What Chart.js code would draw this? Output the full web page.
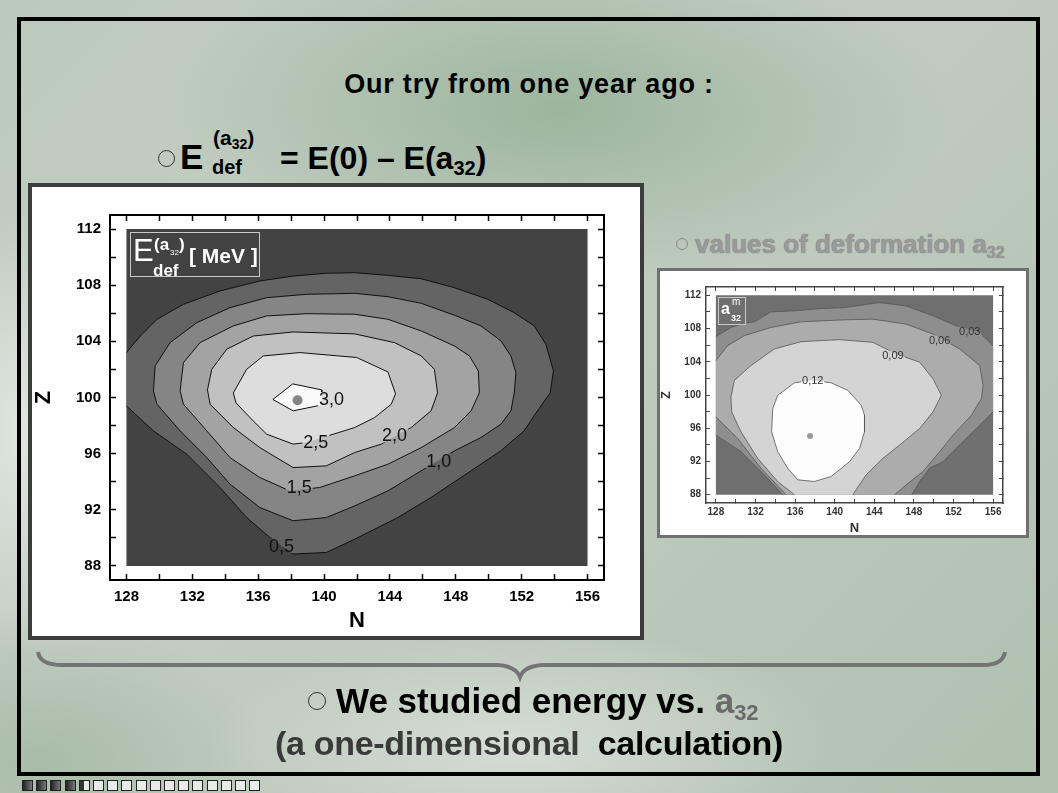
<!DOCTYPE html>
<html>
<head>
<meta charset="utf-8">
<script src="https://cdn.jsdelivr.net/npm/chart.js@4.4.1/dist/chart.umd.min.js"></script>
<style>
html, body { margin: 0; padding: 0; }
body {
  width: 1058px; height: 793px; position: relative; overflow: hidden;
  font-family: "Liberation Sans", Arial, sans-serif;
  background:
    radial-gradient(ellipse 260px 300px at 40px 430px, rgba(236,239,236,0.75), rgba(236,239,236,0) 75%),
    radial-gradient(ellipse 420px 160px at 520px 745px, rgba(232,236,232,0.6), rgba(232,236,232,0) 75%),
    radial-gradient(ellipse 520px 240px at 560px 110px, rgba(140,170,140,0.7), rgba(140,170,140,0) 75%),
    radial-gradient(ellipse 300px 200px at 40px 760px, rgba(150,175,150,0.6), rgba(150,175,150,0) 75%),
    linear-gradient(135deg, #bccabc 0%, #c4cec4 40%, #b9c7b9 70%, #b0c1b0 100%);
}
.frame { position: absolute; left: 17px; top: 17px; width: 1023px; height: 759px; border: 4px solid #000; box-sizing: border-box; }
.abs { position: absolute; white-space: nowrap; line-height: 1; }
.b { font-weight: bold; }
.sub { vertical-align: -0.3em; }
.bullet { position: absolute; border: 1.6px solid #333; border-radius: 50%; box-sizing: border-box; }
.panelL { position: absolute; left: 28px; top: 183px; width: 616px; height: 457px; border: 4px solid #3c3c3c; background: #fff; box-sizing: border-box; }
.panelR { position: absolute; left: 657px; top: 268px; width: 372px; height: 270px; border: 3px solid #707070; background: #fff; box-sizing: border-box; }
canvas { position: absolute; }
.legL { position: absolute; left: 130px; top: 232px; width: 130px; height: 45px; border: 1px solid #c8c8c8; box-sizing: border-box; background: #424242; }
.legR { position: absolute; left: 718px; top: 297px; width: 28px; height: 28px; border: 1px solid #c8c8c8; box-sizing: border-box; background: #6f6f6f; }
.w { color: #fff; }
.sq { position: absolute; top: 780px; width: 11px; height: 11px; border: 1px solid #222; box-sizing: border-box; background: #e8ece8; }
</style>
</head>
<body>
<div class="frame"></div>

<div class="abs b" style="left:0;width:1058px;text-align:center;top:71px;font-size:27px;letter-spacing:0.8px;">Our try from one year ago :</div>

<div class="bullet" style="left:158px;top:150px;width:17px;height:17px;"></div>
<div class="abs b" style="left:180px;top:139px;font-size:35px;">E</div>
<div class="abs b" style="left:213px;top:127px;font-size:21px;">(a<span class="sub" style="font-size:14px;">32</span>)</div>
<div class="abs b" style="left:212px;top:157px;font-size:20px;">def</div>
<div class="abs b" style="left:280px;top:142px;font-size:32px;">= E(0) – E(a<span class="sub" style="font-size:20px;">32</span>)</div>

<div class="bullet" style="left:676px;top:238px;width:12px;height:12px;border-color:#888;"></div>
<div class="abs b" style="left:695px;top:231px;font-size:26px;color:#9a9a9a;text-shadow:0 0 1px #666;">values of deformation a<span class="sub" style="font-size:16px;">32</span></div>

<div class="panelL"></div>
<canvas id="chartEnergy" width="608" height="449" style="left:32px;top:187px;width:608px;height:449px;"></canvas>
<div class="legL"></div>
<div class="abs w" style="left:133px;top:235px;font-size:31px;">E</div>
<div class="abs b w" style="left:154px;top:236px;font-size:17px;">(a</div>
<div class="abs w" style="left:170px;top:249px;font-size:8px;">32</div>
<div class="abs b w" style="left:179px;top:236px;font-size:17px;">)</div>
<div class="abs b w" style="left:153px;top:262px;font-size:17px;">def</div>
<div class="abs b w" style="left:189px;top:245px;font-size:21px;">[ MeV ]</div>

<div class="panelR"></div>
<canvas id="chartDeform" width="366" height="264" style="left:660px;top:271px;width:366px;height:264px;"></canvas>
<div class="legR"></div>
<div class="abs b w" style="left:721px;top:301px;font-size:16px;">a</div>
<div class="abs w" style="left:732px;top:297px;font-size:10px;">m</div>
<div class="abs b w" style="left:731px;top:314px;font-size:9px;">32</div>

<svg width="1058" height="793" style="position:absolute;left:0;top:0;">
  <path d="M 38 652 Q 40 665 62 665 L 497 665 Q 516 666 520 677 Q 524 666 543 665 L 983 665 Q 1003 665 1005 652" fill="none" stroke="#747474" stroke-width="4"/>
</svg>

<div class="bullet" style="left:308px;top:692px;width:18px;height:18px;"></div>
<div class="abs b" style="left:336px;top:683px;font-size:35px;">We studied energy vs. <span style="color:#6a6a6a;">a<span class="sub" style="font-size:22px;">32</span></span></div>
<div class="abs b" style="left:275px;top:726px;font-size:34px;letter-spacing:-0.3px;"><span style="color:#3a3a3a;">(a one-dimensional</span>&nbsp; calculation)</div>

<div id="nav"></div>

<script>
// axes and ticks
const nRange = [127, 157];
const zRange = [87, 113];
const nTicks = [128, 130, 132, 134, 136, 138, 140, 142, 144, 146, 148, 150, 152, 154, 156];
const zTicks = [88, 90, 92, 94, 96, 98, 100, 102, 104, 106, 108, 110, 112];
const domain = [[128, 88], [156, 88], [156, 112], [128, 112]];

// E_def contours, [N, Z]
const energyLevels = ["0,5", "1,0", "1,5", "2,0", "2,5", "3,0"];
const energy05 = [[128,103.2],[128.84,104.38],[129.85,105.57],[131.46,106.64],[133.68,107.59],[136.1,108.3],[138.12,108.65],[140.14,108.85],[141.86,108.89],[143.88,108.7],[145.9,108.46],[147.92,107.82],[149.93,107.0],[151.55,106.04],[152.76,105.1],[153.47,103.79],[153.67,102.96],[153.93,101.89],[153.73,100.33],[152.96,99.05],[152.15,97.63],[150.74,96.21],[148.93,94.78],[146.5,92.88],[144.48,91.45],[141.86,89.91],[140.14,88.96],[138.12,88.85],[136.71,90.03],[135.3,91.45],[133.68,93.59],[131.66,95.96],[129.64,97.62],[128,99.4]];
const energy10 = [[129.64,100.47],[129.74,102.25],[130.65,103.91],[132.27,105.33],[134.29,106.4],[136.51,107.11],[138.93,107.35],[141.86,107.42],[143.88,107.18],[145.9,106.71],[147.92,105.86],[149.53,105.1],[150.74,104.03],[151.35,102.96],[151.65,101.77],[151.55,100.33],[151.35,99.05],[150.74,98.1],[149.53,97.15],[147.92,96.2],[145.9,94.78],[143.88,93.35],[141.86,92.28],[140.14,91.45],[138.12,91.22],[136.1,92.16],[134.29,93.83],[132.88,95.72],[131.26,97.62],[129.85,99.52]];
const energy15 = [[131.26,100.47],[131.36,101.54],[131.46,102.48],[132.47,103.91],[134.49,105.1],[136.51,105.81],[138.93,105.97],[141.86,105.93],[143.88,105.57],[145.9,104.74],[147.92,103.67],[148.83,102.96],[149.37,101.89],[149.43,100.33],[148.93,99.05],[147.92,97.86],[145.9,96.43],[143.88,95.25],[141.86,94.42],[139.74,93.59],[137.92,93.35],[136.1,94.3],[134.29,95.72],[132.88,97.62],[131.46,99.52]];
const energy20 = [[132.92,100.54],[133.18,102.01],[134.09,103.44],[135.7,104.38],[138.12,104.67],[141.86,104.53],[144.28,103.91],[145.9,102.96],[146.7,102.01],[146.89,100.33],[146.5,99.05],[145.29,97.86],[143.48,96.68],[141.86,96.08],[140.14,95.13],[138.12,95.01],[136.1,96.43],[134.49,97.86],[133.08,99.52]];
const energy25 = [[134.49,100.33],[135.3,102.01],[136.3,102.96],[138.53,103.2],[141.98,102.85],[143.88,101.82],[144.34,100.26],[144.08,99.52],[143.07,98.57],[141.86,97.86],[138.93,96.79],[138.12,96.68],[136.51,97.39],[135.7,98.33],[134.65,99.62]];
const energy30 = [[136.89,99.86],[138.1,100.97],[139.86,100.54],[139.86,99.47],[138.12,99.05]];
const energyMax = [138.39, 99.81];
const energyLabelPos = [[137.42,89.44],[146.97,95.49],[138.49,93.59],[144.28,97.3],[139.5,96.86],[140.45,99.88]];

// a32 deformation contours, [N, Z]
const deformLevels = ["0,03", "0,06", "0,09", "0,12"];
const deform03 = [[128,107.02],[129.52,108.13],[130.87,108.65],[131.88,108.81],[133.57,110.01],[135.93,110.13],[138.63,110.41],[140.99,110.52],[144.53,111.12],[147.23,110.72],[149.93,109.53],[152.29,108.33],[154.65,107.53],[156,105.94],[156,97.97],[154.65,96.37],[153.3,94.78],[152.29,93.58],[150.94,91.98],[149.59,91.19],[148.58,89.59],[147.8,88],[134.75,88],[132.89,90.39],[130.53,93.18],[128,95.17]];
const deform06 = [[128,104.15],[129.18,105.94],[130.87,107.14],[133.57,108.13],[136.6,108.81],[140.99,109.05],[143.86,109.13],[147.23,108.53],[149.93,107.33],[152.63,105.54],[154.65,103.55],[154.99,101.15],[154.82,99.56],[153.81,97.57],[151.95,95.17],[150.6,93.18],[148.92,90.79],[147.23,89.19],[146.05,88],[135.09,88],[132.55,91.19],[130.19,94.78],[128,97.37]];
const deform09 = [[129.52,99.76],[129.86,101.75],[131.54,103.55],[133.9,105.54],[136.6,106.42],[140.48,106.66],[143.86,106.34],[146.22,104.94],[148.58,103.95],[149.93,101.95],[150.77,99.96],[149.93,97.97],[148.58,95.97],[146.56,93.98],[144.87,92.38],[143.18,90.39],[141.83,88],[135.93,88],[134.24,89.59],[132.22,92.38],[130.53,95.57],[129.59,97.97]];
const deform12 = [[134.24,99.96],[135.93,101.47],[137.62,101.75],[139.64,101.47],[141.33,100.56],[142.68,98.76],[143.01,97.57],[143.01,95.57],[142.51,93.58],[141.5,91.98],[139.64,90.19],[137.95,89.59],[136.27,89.79],[135.25,91.19],[134.24,93.18],[133.63,95.57],[133.74,98.36]];
const deformMax = [137.51, 95.05];
const deformLabelPos = [[153.64,107.73],[150.6,106.66],[145.88,104.82],[137.78,101.83]];

function onEdge(a, b) {
  const [n0, z0] = domain[0], [n1, z1] = domain[2];
  return (a[0] === n0 && b[0] === n0) || (a[0] === n1 && b[0] === n1) ||
         (a[1] === z0 && b[1] === z0) || (a[1] === z1 && b[1] === z1);
}

function toPoints(poly) {
  return poly.map(p => ({x: p[0], y: p[1]}));
}

// closed contour line, broken where it runs along the frame
function strokePoints(poly) {
  const pts = [];
  for (let i = 0; i <= poly.length; i++) {
    const a = poly[(i + poly.length - 1) % poly.length], b = poly[i % poly.length];
    if (i > 0 && onEdge(a, b)) pts.push({x: (a[0] + b[0]) / 2, y: null});
    pts.push({x: b[0], y: b[1]});
  }
  return pts;
}

function contourSets(polys, fills, lineColor, lineWidth, maxPt, dot) {
  const sets = [];
  polys.forEach((p, i) => {
    sets.push({data: toPoints(p), fill: 'shape', backgroundColor: fills[i], borderColor: 'transparent',
      borderWidth: 0, pointRadius: 0, order: 100 - i});
  });
  polys.forEach((p, i) => {
    if (i === 0) return;
    sets.push({data: strokePoints(p), fill: false, borderColor: lineColor, borderWidth: lineWidth,
      pointRadius: 0, spanGaps: false, order: 1, isLine: true});
  });
  sets.push({data: [{x: maxPt[0], y: maxPt[1]}], showLine: false, pointRadius: dot.r,
    backgroundColor: dot.color, borderWidth: 0, order: 0});
  return sets;
}

const contourText = {
  id: 'contourText',
  rects(chart, opts) {
    const {ctx, scales: {x, y}} = chart;
    ctx.font = opts.font;
    return opts.items.map(it => {
      const px = x.getPixelForValue(it.n), py = y.getPixelForValue(it.z);
      const w = ctx.measureText(it.text).width + 2;
      return {px, py, w, h: opts.size * 0.8, text: it.text};
    });
  },
  beforeDatasetDraw(chart, args, opts) {
    if (!chart.data.datasets[args.index].isLine) return;
    const ctx = chart.ctx;
    const rs = this.rects(chart, opts);
    ctx.save();
    ctx.beginPath();
    ctx.rect(0, 0, chart.width, chart.height);
    rs.forEach(r => ctx.rect(r.px - r.w / 2, r.py - r.h / 2, r.w, r.h));
    ctx.clip('evenodd');
  },
  afterDatasetDraw(chart, args) {
    if (!chart.data.datasets[args.index].isLine) return;
    chart.ctx.restore();
  },
  afterDatasetsDraw(chart, args, opts) {
    const ctx = chart.ctx;
    const rs = this.rects(chart, opts);
    ctx.save();
    ctx.fillStyle = opts.color;
    ctx.textAlign = 'center';
    ctx.textBaseline = 'middle';
    rs.forEach(r => ctx.fillText(r.text, r.px, r.py + 1));
    ctx.restore();
  }
};

function makeScales(s) {
  const setTicks = (vals) => (axis) => { axis.ticks = vals.map(v => ({value: v})); };
  const tickFont = {family: 'Liberation Sans', size: s.font, weight: 'bold'};
  const titleFont = {family: 'Liberation Sans', size: s.title, weight: 'bold', lineHeight: 1};
  const grid = {drawOnChartArea: false, tickLength: -s.tick, tickColor: s.axis, tickWidth: s.tw};
  const border = {color: s.axis, width: s.bw};
  return {
    x: {type: 'linear', position: 'bottom', min: nRange[0], max: nRange[1],
      afterBuildTicks: setTicks(nTicks), afterFit: a => { a.height = s.bottom; },
      grid, border,
      ticks: {autoSkip: false, maxRotation: 0, padding: s.padX, font: tickFont, color: s.label,
        callback: v => (v % 4 === 0 ? String(v) : '')},
      title: {display: true, text: 'N', font: titleFont, color: s.label, padding: {top: s.tpX, bottom: s.tpX}}},
    x2: {type: 'linear', position: 'top', min: nRange[0], max: nRange[1],
      afterBuildTicks: setTicks(nTicks), afterFit: a => { a.height = s.top; },
      grid, border, ticks: {display: false}},
    y: {type: 'linear', position: 'left', min: zRange[0], max: zRange[1],
      afterBuildTicks: setTicks(zTicks), afterFit: a => { a.width = s.left; },
      grid, border,
      ticks: {autoSkip: false, padding: s.padY, font: tickFont, color: s.label,
        callback: v => (v % 4 === 0 ? String(v) : '')},
      title: {display: true, text: 'Z', font: titleFont, color: s.label, padding: {top: s.tpY, bottom: s.tpY}}},
    y2: {type: 'linear', position: 'right', min: zRange[0], max: zRange[1],
      afterBuildTicks: setTicks(zTicks), afterFit: a => { a.width = s.right; },
      grid, border, ticks: {display: false}}
  };
}

function labelItems(texts, pos) {
  return texts.map((t, i) => ({text: t, n: pos[i][0], z: pos[i][1]}));
}

new Chart(document.getElementById('chartEnergy'), {
  type: 'line',
  data: {datasets: contourSets(
    [domain, energy05, energy10, energy15, energy20, energy25, energy30],
    ['#434343', '#646464', '#858585', '#a3a3a3', '#c1c1c1', '#dddddd', '#fafafa'],
    '#111', 1, energyMax, {r: 5, color: '#858585'})},
  options: {
    responsive: false, animation: false, devicePixelRatio: 1, events: [],
    layout: {padding: 0},
    scales: makeScales({font: 15, title: 22, tick: 6, tw: 1.5, bw: 2, axis: '#000', label: '#000',
      left: 78, right: 36, top: 28, bottom: 56, padX: 14, padY: 15, tpX: 4, tpY: 1}),
    plugins: {
      legend: {display: false}, tooltip: {enabled: false},
      contourText: {items: labelItems(energyLevels, energyLabelPos), font: '18px "Liberation Sans"', size: 18, color: '#111'}
    }
  },
  plugins: [contourText]
});

new Chart(document.getElementById('chartDeform'), {
  type: 'line',
  data: {datasets: contourSets(
    [domain, deform03, deform06, deform09, deform12],
    ['#6f6f6f', '#8e8e8e', '#acacac', '#d4d4d4', '#fdfdfd'],
    '#555', 0.8, deformMax, {r: 3, color: '#999'})},
  options: {
    responsive: false, animation: false, devicePixelRatio: 1, events: [],
    layout: {padding: 0},
    scales: makeScales({font: 10, title: 13, tick: 4, tw: 1, bw: 1.5, axis: '#444', label: '#333',
      left: 46, right: 23, top: 16, bottom: 32, padX: 7, padY: 9, tpX: 0, tpY: 0}),
    plugins: {
      legend: {display: false}, tooltip: {enabled: false},
      contourText: {items: labelItems(deformLevels, deformLabelPos), font: '11px "Liberation Sans"', size: 11, color: '#333'}
    }
  },
  plugins: [contourText]
});

// slide navigation squares
const nav = document.getElementById('nav');
for (let i = 0; i < 17; i++) {
  const d = document.createElement('div');
  d.className = 'sq';
  d.style.left = (22 + i * 14.2) + 'px';
  if (i < 4) d.style.background = 'linear-gradient(90deg,#222,#777)';
  if (i === 4) d.style.background = 'linear-gradient(90deg,#333 40%,#e8ece8 40%)';
  nav.appendChild(d);
}
</script>
</body>
</html>
